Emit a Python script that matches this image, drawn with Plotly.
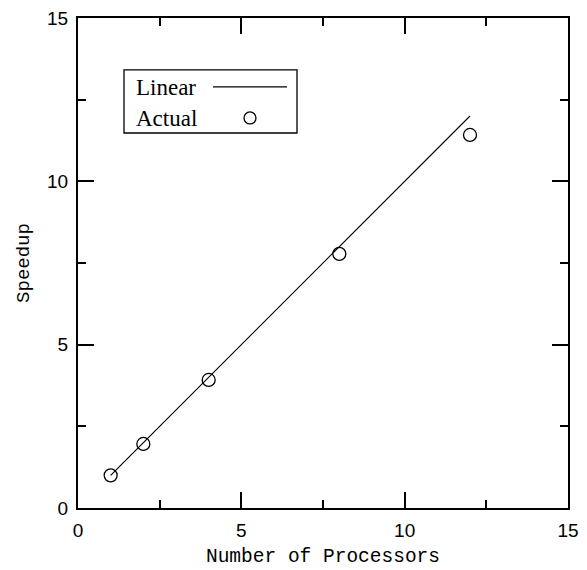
import plotly.graph_objects as go

# Data
processors = [1, 2, 4, 8, 12]
actual_speedup = [1.0, 1.96, 3.92, 7.78, 11.42]
linear_x = [1, 12]
linear_y = [1, 12]
tick_vals = [0, 5, 10, 15]
tick_text = ["0", "5", "10", "15"]
legend_labels = ["Linear", "Actual"]

fig = go.Figure()
fig.add_trace(go.Scatter(x=linear_x, y=linear_y, mode="lines",
                         line=dict(color="black", width=1.1), showlegend=False,
                         name=legend_labels[0]))
fig.add_trace(go.Scatter(x=processors, y=actual_speedup, mode="markers",
                         marker=dict(symbol="circle-open", size=13, color="black",
                                     line=dict(width=1.3, color="black")),
                         showlegend=False, name=legend_labels[1]))

axis_common = dict(
    range=[0, 15], tickvals=tick_vals, ticktext=tick_text,
    ticks="inside", ticklen=16, tickwidth=1.5, tickcolor="black",
    minor=dict(dtick=2.5, ticks="inside", ticklen=8, tickwidth=1.5, tickcolor="black", showgrid=False),
    showline=True, linecolor="black", linewidth=2, mirror="ticks",
    showgrid=False, zeroline=False, automargin=False,
    ticklabeloverflow="allow",
    tickfont=dict(family="Liberation Sans", size=19, color="black"),
)

fig.update_xaxes(**axis_common, ticklabelstandoff=4,
                 title=dict(text="Number of Processors", standoff=9,
                            font=dict(family="Liberation Mono", size=19.5, color="black")))
fig.update_yaxes(**axis_common, ticklabelstandoff=4,
                 title=dict(text="Speedup", standoff=12,
                            font=dict(family="Liberation Mono", size=19, color="black")))

# Legend (drawn manually: text on the left, key on the right)
fig.add_shape(type="rect", xref="x", yref="y", x0=1.408, x1=6.704, y0=11.48, y1=13.41,
              line=dict(color="black", width=1.3), fillcolor="white", layer="above")
fig.add_shape(type="line", xref="x", yref="y", x0=4.133, x1=6.398, y0=12.89, y1=12.89,
              line=dict(color="black", width=1.3))
fig.add_shape(type="circle", xref="x", yref="y", xsizemode="pixel", ysizemode="pixel",
              xanchor=5.265, yanchor=11.94, x0=-6, x1=6, y0=-6, y1=6,
              line=dict(color="black", width=1.3))
for lbl, yy in zip(legend_labels, [12.87, 11.92]):
    fig.add_annotation(x=1.70, y=yy, xref="x", yref="y", text=lbl, showarrow=False,
                       xanchor="left", yanchor="middle",
                       font=dict(family="Liberation Serif", size=23, color="black"))

fig.update_layout(width=587, height=570,
                  margin=dict(l=78, r=19, t=18, b=62),
                  plot_bgcolor="white", paper_bgcolor="white")

# remove the default 8px page margin so the figure fills the window exactly
fig.write_html("out.html", config={"displayModeBar": False},
               post_script="document.body.style.margin='0';")
